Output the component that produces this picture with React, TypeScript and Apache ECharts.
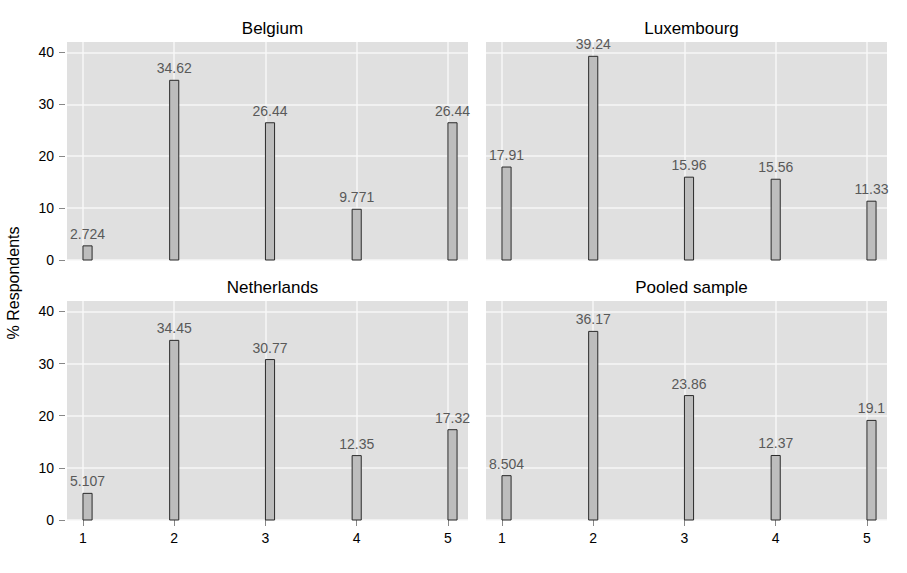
import React, { useEffect, useRef } from "react";
import * as echarts from "echarts";

const panelTitles = ["Belgium", "Luxembourg", "Netherlands", "Pooled sample"];
const categories = [1, 2, 3, 4, 5];
// left edge of each histogram bin
const binStarts = [1, 1.95, 3, 3.95, 5];
const binWidth = 0.1;
const belgium = [2.724, 34.62, 26.44, 9.771, 26.44];
const luxembourg = [17.91, 39.24, 15.96, 15.56, 11.33];
const netherlands = [5.107, 34.45, 30.77, 12.35, 17.32];
const pooled = [8.504, 36.17, 23.86, 12.37, 19.1];
const yTicks = [0, 10, 20, 30, 40];
const yName = "% Respondents";

const seriesValues = [belgium, luxembourg, netherlands, pooled];

const FONT = "Liberation Sans, Arial, Helvetica, sans-serif";

export default function App() {
  const ref = useRef<HTMLDivElement>(null);
  useEffect(() => {
    if (!ref.current) return;
    const chart = echarts.init(ref.current, undefined, { renderer: "svg" });
    const grids = [
      { left: 67, top: 42, width: 401, height: 218 },
      { left: 486, top: 42, width: 401, height: 218 },
      { left: 67, top: 301, width: 401, height: 219 },
      { left: 486, top: 301, width: 401, height: 219 },
    ];
    const option: any = {
      animation: false,
      textStyle: { fontFamily: FONT },
      title: grids.map((g, i) => ({
        text: panelTitles[i],
        left: g.left + g.width / 2,
        top: g.top - 27,
        textAlign: "center",
        textStyle: { fontFamily: FONT, fontSize: 17, fontWeight: "normal", color: "#000" },
      })),
      grid: grids.map((g) => ({
        ...g,
        show: true,
        backgroundColor: "#e0e0e0",
        borderWidth: 0,
        containLabel: false,
      })),
      xAxis: grids.map((g, i) => ({
        type: "value",
        gridIndex: i,
        min: 0.825,
        max: 5.22,
        axisLine: { show: false },
        axisTick: {
          show: i >= 2,
          length: 6,
          lineStyle: { color: "#888" },
          customValues: categories,
        },
        axisLabel: {
          show: i >= 2,
          margin: 11,
          fontSize: 14,
          color: "#000",
          fontFamily: FONT,
          customValues: categories,
        },
        splitLine: { show: true, lineStyle: { color: "#f7f7f7", width: 1.5 } },
      })),
      yAxis: grids.map((g, i) => ({
        type: "value",
        gridIndex: i,
        min: 0,
        max: 42,
        offset: 2,
        axisLine: { show: false },
        axisTick: {
          show: i % 2 === 0,
          length: 6,
          lineStyle: { color: "#888" },
          customValues: yTicks,
        },
        axisLabel: {
          show: i % 2 === 0,
          margin: 11,
          fontSize: 14,
          color: "#000",
          fontFamily: FONT,
          customValues: yTicks,
        },
        splitLine: { show: true, lineStyle: { color: "#f7f7f7", width: 1.5 } },
      })),
      series: seriesValues.map((vals, i) => ({
        type: "custom",
        xAxisIndex: i,
        yAxisIndex: i,
        data: vals.map((v, k) => [binStarts[k], v, categories[k]]),
        renderItem: (params: any, api: any) => {
          const x0 = api.value(0);
          const y = api.value(1);
          const p0 = api.coord([x0, y]);
          const p1 = api.coord([x0 + binWidth, 0]);
          const label = String(y);
          return {
            type: "group",
            children: [
              {
                type: "rect",
                shape: { x: p0[0], y: p0[1], width: p1[0] - p0[0], height: p1[1] - p0[1] },
                style: { fill: "#bdbdbd", stroke: "#2a2a2a", lineWidth: 1 },
              },
              {
                type: "text",
                x: (p0[0] + p1[0]) / 2,
                y: p0[1] - 5,
                style: {
                  text: label,
                  textAlign: "center",
                  textVerticalAlign: "bottom",
                  fontSize: 14,
                  fontFamily: FONT,
                  fill: "#595959",
                },
              },
            ],
          };
        },
      })),
      graphic: [
        {
          type: "text",
          x: 13,
          y: 283,
          rotation: Math.PI / 2,
          style: {
            text: yName,
            textAlign: "center",
            textVerticalAlign: "middle",
            fontSize: 16,
            fontFamily: FONT,
            fill: "#000",
          },
        },
      ],
    };
    chart.setOption(option);
    return () => chart.dispose();
  }, []);
  return (
    <div
      ref={ref}
      style={{ position: "fixed", left: 0, top: 0, width: 907, height: 573, background: "#fff" }}
    />
  );
}
